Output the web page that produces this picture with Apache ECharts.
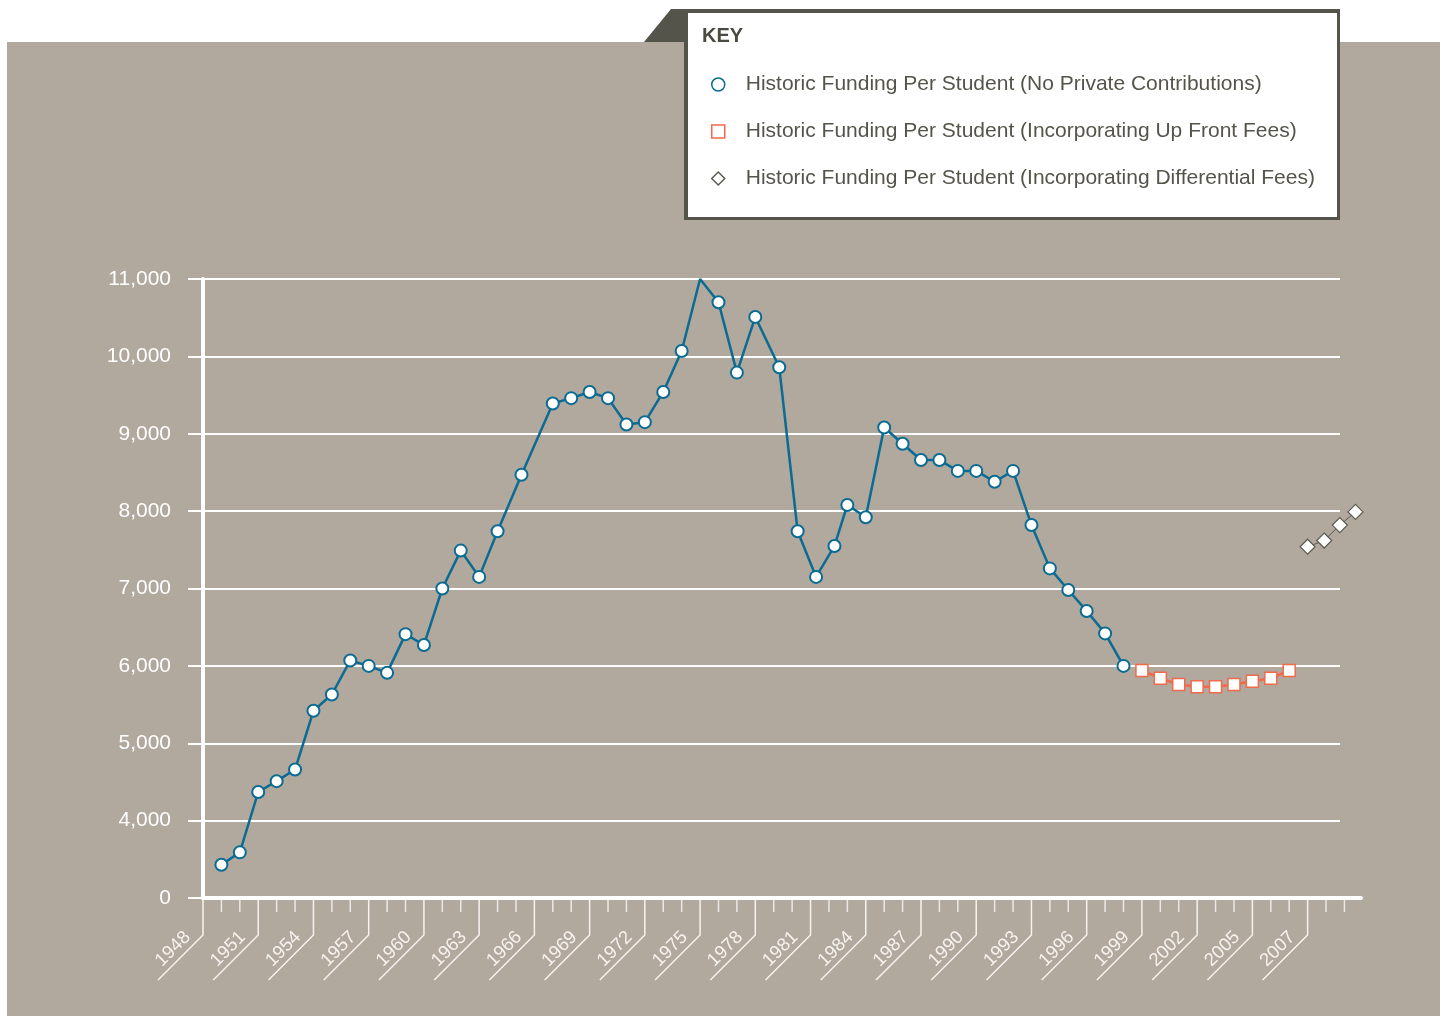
<!DOCTYPE html>
<html>
<head>
<meta charset="utf-8">
<title>Historic Funding Per Student</title>
<script src="https://cdn.jsdelivr.net/npm/echarts@6/dist/echarts.min.js"></script>
<style>
  html, body { margin: 0; padding: 0; background: #fff; }
  #chart { width: 1446px; height: 1016px; }
</style>
</head>
<body>
<div id="chart"></div>
<script>
// values as plotted (the axis is broken between 0 and 4,000)
var blueYears = [1949, 1950, 1951, 1952, 1953, 1954, 1955, 1956, 1957, 1958, 1959, 1960,
  1961, 1962, 1963, 1964, 1965.3, 1967, 1968, 1969, 1970, 1971, 1972, 1973, 1974, 1975,
  1976, 1977, 1978, 1979.3, 1980.3, 1981.3, 1982.3, 1983, 1984, 1985, 1986, 1987, 1988,
  1989, 1990, 1991, 1992, 1993, 1994, 1995, 1996, 1997, 1998];
var blueValues = [3430, 3590, 4370, 4510, 4660, 5420, 5630, 6070, 6000, 5910, 6410, 6270,
  7000, 7490, 7150, 7740, 8470, 9390, 9460, 9540, 9460, 9120, 9150, 9540, 10070, 11000,
  10700, 9790, 10510, 9860, 7740, 7150, 7550, 8080, 7920, 9080, 8870, 8660, 8660,
  8520, 8520, 8380, 8520, 7820, 7260, 6980, 6710, 6420, 6000];
var unmarkedYears = [1975];

var feeYears = [1999, 2000, 2001, 2002, 2003, 2004, 2005, 2006, 2007];
var feeValues = [5940, 5840, 5760, 5730, 5730, 5760, 5800, 5840, 5940];

var diffYears = [2008, 2008.9, 2009.75, 2010.6];
var diffValues = [7540, 7620, 7820, 7990];

// every third tick is labelled (the last one reads 2007 in the original)
var tickLabels = ['1948', '1951', '1954', '1957', '1960', '1963', '1966', '1969', '1972',
  '1975', '1978', '1981', '1984', '1987', '1990', '1993', '1996', '1999', '2002', '2005', '2007'];
var tickYears = [];
for (var t = 1948; t <= 2010; t++) tickYears.push(t);

var seriesNames = [
  'Historic Funding Per Student (No Private Contributions)',
  'Historic Funding Per Student (Incorporating Up Front Fees)',
  'Historic Funding Per Student (Incorporating Differential Fees)'
];

var FONT = '"Liberation Sans", Arial, sans-serif';
var BLUE = '#0b6b92';
var CORAL = '#f06a4c';
var DARK = '#5b5a51';
var LIGHT = '#f6f3ef';
var Y_MIN = 3000;
var Y_MAX = 11000;

function zip(xs, vs) {
  return xs.map(function (x, i) { return [x, vs[i]]; });
}

var chart = echarts.init(document.getElementById('chart'));

chart.setOption({
  animation: false,
  graphic: [
    { type: 'rect', z: -10, silent: true, shape: { x: 7, y: 42, width: 1433, height: 974 }, style: { fill: '#b1a89e' } },
    { type: 'polygon', z: 3, silent: true, shape: { points: [[644, 42], [671, 9], [690, 9], [690, 42]] }, style: { fill: '#55544b' } },
    { type: 'rect', z: 3, silent: true, shape: { x: 684, y: 9, width: 656, height: 211 }, style: { fill: '#55544b' } },
    { type: 'rect', z: 4, silent: true, shape: { x: 688, y: 13, width: 649, height: 204 }, style: { fill: '#fff' } },
    { type: 'text', z: 5, silent: true, x: 702, y: 36,
      style: { text: 'KEY', font: 'bold 20px ' + FONT, fill: '#4b4a42', verticalAlign: 'middle' } }
  ],
  legend: {
    z: 10,
    orient: 'vertical',
    left: 706,
    top: 69,
    itemWidth: 13,
    itemHeight: 13,
    itemGap: 26,
    selectedMode: false,
    textStyle: { color: '#55544b', fontSize: 21, fontFamily: FONT, lineHeight: 21, padding: [0, 0, 0, 16] },
    data: [
      { name: seriesNames[0], icon: 'circle', itemStyle: { color: '#fff', borderColor: BLUE, borderWidth: 1.5 } },
      { name: seriesNames[1], icon: 'rect', itemStyle: { color: '#fff', borderColor: CORAL, borderWidth: 1.5 } },
      { name: seriesNames[2], icon: 'diamond', itemStyle: { color: '#fff', borderColor: DARK, borderWidth: 1.5 } }
    ]
  },
  grid: [
    { left: 203, right: 85, top: 279, bottom: 118 },
    { left: 203, right: 106, top: 279, bottom: 118 }
  ],
  xAxis: [
    {
      gridIndex: 0, type: 'value', min: 1948, max: 2010.9,
      axisLine: { show: true, onZero: false, lineStyle: { color: '#fff', width: 4 } },
      axisTick: { show: false },
      axisLabel: { show: false },
      splitLine: { show: false }
    },
    { gridIndex: 1, type: 'value', min: 1948, max: 2009.7, show: false }
  ],
  yAxis: [
    { gridIndex: 0, type: 'value', min: Y_MIN, max: Y_MAX, show: false },
    {
      gridIndex: 1, type: 'value', min: Y_MIN, max: Y_MAX, interval: 1000,
      axisLine: { show: true, lineStyle: { color: '#fff', width: 4 } },
      axisTick: { show: true, length: 15, lineStyle: { color: '#fff', width: 2 } },
      axisLabel: {
        color: '#fff', fontSize: 21, fontFamily: FONT, margin: 32,
        formatter: function (v) { return v === Y_MIN ? '0' : v.toLocaleString('en-US'); }
      },
      splitLine: { show: true, lineStyle: { color: '#fff', width: 2 } }
    }
  ],
  series: [
    {
      // year ticks and the slanted year labels under the axis
      type: 'custom',
      xAxisIndex: 0, yAxisIndex: 0,
      silent: true,
      clip: false,
      z: 1,
      data: tickYears.map(function (y) { return [y, Y_MIN]; }),
      renderItem: function (params, api) {
        var year = api.value(0);
        var p = api.coord([year, Y_MIN]);
        var off = Math.round(year - 1948);
        if (off % 3 !== 0) {
          return {
            type: 'line',
            shape: { x1: p[0], y1: p[1] + 2, x2: p[0], y2: p[1] + 14 },
            style: { stroke: 'rgba(255,255,255,0.75)', lineWidth: 1.5 }
          };
        }
        return {
          type: 'group',
          children: [
            {
              type: 'polyline',
              shape: { points: [[p[0], p[1] + 2], [p[0], p[1] + 37], [p[0] - 45, p[1] + 82]] },
              style: { stroke: LIGHT, lineWidth: 1.5, fill: 'none' }
            },
            {
              type: 'text',
              x: p[0] - 30, y: p[1] + 51,
              rotation: Math.PI / 4,
              style: {
                text: tickLabels[off / 3], fill: LIGHT, font: '18.5px ' + FONT,
                align: 'center', verticalAlign: 'middle'
              }
            }
          ]
        };
      }
    },
    {
      name: seriesNames[0],
      type: 'line',
      xAxisIndex: 0, yAxisIndex: 0,
      clip: false,
      z: 3,
      data: zip(blueYears, blueValues).map(function (d) {
        return unmarkedYears.indexOf(d[0]) >= 0 ? { value: d, symbol: 'none' } : d;
      }),
      symbol: 'circle',
      symbolSize: 12,
      showAllSymbol: true,
      lineStyle: { color: BLUE, width: 2.5 },
      itemStyle: { color: '#fff', borderColor: BLUE, borderWidth: 2 }
    },
    {
      name: seriesNames[1],
      type: 'line',
      xAxisIndex: 0, yAxisIndex: 0,
      clip: false,
      z: 3,
      data: zip(feeYears, feeValues),
      symbol: 'rect',
      symbolSize: 12,
      lineStyle: { color: CORAL, width: 2.5 },
      itemStyle: { color: '#fff', borderColor: CORAL, borderWidth: 1.5 }
    },
    {
      name: seriesNames[2],
      type: 'line',
      xAxisIndex: 0, yAxisIndex: 0,
      clip: false,
      z: 3,
      data: zip(diffYears, diffValues),
      symbol: 'diamond',
      symbolSize: 15,
      lineStyle: { color: DARK, width: 1 },
      itemStyle: { color: '#fff', borderColor: DARK, borderWidth: 1.2 }
    }
  ]
});
</script>
</body>
</html>
